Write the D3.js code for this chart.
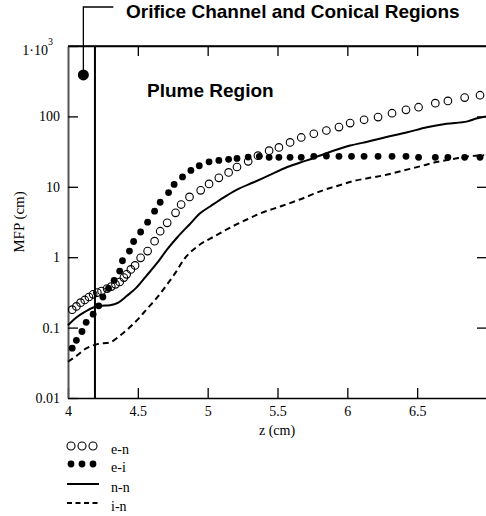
<!DOCTYPE html>
<html>
<head>
<meta charset="utf-8">
<script src="https://cdn.jsdelivr.net/npm/d3@7"></script>
<style>
  body { margin: 0; background: #fff; }
  svg { display: block; }
</style>
</head>
<body>
<div id="chart"></div>
<script>
// mean free paths vs axial position
var zEN = [4.03,4.06,4.09,4.12,4.15,4.18,4.21,4.24,4.28,4.31,4.34,4.37,4.40,4.42,4.45,4.48,4.52,4.57,4.62,4.66,4.71,4.77,4.81,4.87,4.95,5.01,5.08,5.15,5.21,5.29,5.36,5.44,5.51,5.59,5.67,5.76,5.85,5.94,6.02,6.12,6.22,6.32,6.42,6.51,6.63,6.72,6.84,6.95];
var mfpEN = [0.18,0.20,0.226,0.247,0.272,0.297,0.314,0.331,0.358,0.382,0.412,0.444,0.513,0.571,0.671,0.765,0.98,1.22,1.69,2.34,3.08,4.27,5.6,7.19,8.9,11.0,13.4,16.0,19.1,23.0,27.7,32.6,36.3,42.7,50.2,56.7,63.1,70.5,80.3,89.5,97.8,111,124,135,154,166,185,200];

var zEI = [4.03,4.06,4.10,4.13,4.18,4.22,4.25,4.29,4.33,4.37,4.39,4.44,4.47,4.52,4.57,4.62,4.66,4.72,4.76,4.82,4.88,4.94,5.01,5.08,5.15,5.21,5.29,5.37,5.44,5.51,5.59,5.67,5.76,5.85,5.94,6.03,6.12,6.22,6.32,6.42,6.51,6.63,6.72,6.84,6.95];
var mfpEI = [0.051,0.066,0.088,0.119,0.155,0.204,0.272,0.361,0.469,0.635,0.89,1.22,1.67,2.28,3.14,4.5,6.03,8.27,10.8,13.8,17.1,19.9,22.6,23.7,24.6,25.3,26.4,27.1,26.2,26.2,26.2,26.2,27.1,27.4,27.1,27.1,27.1,27.1,27.1,27.1,26.2,26.2,26.2,26.2,26.2];

var zNN = [4.0,4.06,4.12,4.18,4.23,4.30,4.36,4.42,4.49,4.56,4.64,4.71,4.78,4.87,4.95,5.02,5.11,5.21,5.33,5.45,5.57,5.71,5.84,6.02,6.15,6.28,6.43,6.57,6.71,6.86,6.93,7.0];
var mfpNN = [0.108,0.139,0.167,0.193,0.203,0.208,0.227,0.281,0.37,0.54,0.835,1.29,1.89,2.92,4.27,5.3,6.97,9.13,11.6,14.9,19.1,23.7,29.5,38.5,44,51,59.5,70,78.5,85,94,100];

var zIN = [4.0,4.06,4.13,4.21,4.30,4.37,4.44,4.50,4.56,4.64,4.71,4.77,4.83,4.93,5.05,5.17,5.28,5.38,5.52,5.66,5.83,5.95,6.04,6.16,6.28,6.40,6.52,6.64,6.76,6.86,6.98];
var mfpIN = [0.0327,0.0397,0.0506,0.0582,0.0615,0.0763,0.100,0.131,0.179,0.270,0.412,0.603,0.93,1.44,1.99,2.69,3.43,4.21,5.25,6.6,8.98,10.6,12.0,13.4,14.8,17.0,19.5,22.5,24.8,27.0,28.0];

var xTicks = [4, 4.5, 5, 5.5, 6, 6.5, 7];
var xLabels = [4, 4.5, 5, 5.5, 6, 6.5];
var yTicks = [0.01, 0.1, 1, 10, 100, 1000];
var legendLabels = ["e-n", "e-i", "n-n", "i-n"];

// region boundary and the orifice marker
var zBoundary = 4.193;
var orificeMarker = {z: 4.11, mfp: 388};

var serif = "'Liberation Serif', 'Times New Roman', serif";
var sans = "'Liberation Sans', Arial, sans-serif";

var svg = d3.select("#chart").append("svg")
    .attr("width", 486)
    .attr("height", 516),
    margin = {top: 46, right: -1, bottom: 118, left: 68},
    width = 486 - margin.left - margin.right,
    height = 516 - margin.top - margin.bottom,
    g = svg.append("g").attr("transform", "translate(" + margin.left + "," + margin.top + ")");

var x = d3.scaleLinear()
    .domain([4, 7])
    .range([0, width]);

var y = d3.scaleLog()
    .domain([0.01, 1000])
    .range([height, 0]);

function zip(xs, ys) {
  return xs.map(function(d, i) { return {z: d, v: ys[i]}; });
}

var line = d3.line()
    .curve(d3.curveMonotoneX)
    .x(function(d) { return x(d.z); })
    .y(function(d) { return y(d.v); });

// axes, ticks pointing inward
g.append("g")
    .attr("transform", "translate(0," + height + ")")
    .call(d3.axisBottom(x).tickValues(xTicks).tickSizeInner(-10).tickSizeOuter(0).tickPadding(8)
      .tickFormat(function(d) { return xLabels.indexOf(d) >= 0 ? d : ""; }));

g.append("g")
    .call(d3.axisTop(x).tickValues(xTicks.slice(1, 6)).tickSizeInner(-10).tickSizeOuter(0).tickFormat(""));

g.append("g")
    .attr("transform", "translate(" + width + ",0)")
    .call(d3.axisRight(y).tickValues(yTicks.slice(1, 5)).tickSizeInner(-10).tickSizeOuter(0).tickFormat(""));

var left = g.append("g")
    .call(d3.axisLeft(y).tickValues(yTicks).tickSizeInner(-10).tickSizeOuter(0).tickPadding(8)
      .tickFormat(function(d) { return d >= 1000 ? "" : d3.format("~g")(d); }));

g.selectAll(".domain").attr("stroke", "#000").attr("stroke-width", 1.5);
left.select(".domain").attr("stroke", "#555").attr("stroke-width", 2);
g.selectAll(".tick line").attr("stroke", "#000").attr("stroke-width", 1.3);
g.selectAll(".tick text")
    .attr("font-family", serif)
    .attr("font-size", 14)
    .attr("fill", "#000");

// top frame line
g.append("line")
    .attr("x1", 0).attr("x2", width)
    .attr("y1", 0).attr("y2", 0)
    .attr("stroke", "#000").attr("stroke-width", 1.5);

// 1·10^3 label
left.append("text")
    .attr("x", -20)
    .attr("y", y(1000) + 9)
    .attr("text-anchor", "end")
    .attr("font-family", serif)
    .attr("font-size", 14)
    .attr("fill", "#000")
    .text("1\u00b710");
left.append("text")
    .attr("x", -20)
    .attr("y", y(1000) - 1)
    .attr("text-anchor", "start")
    .attr("font-family", serif)
    .attr("font-size", 10)
    .attr("fill", "#000")
    .text("3");

// boundary between orifice/conical and plume regions
g.append("line")
    .attr("x1", x(zBoundary)).attr("x2", x(zBoundary))
    .attr("y1", 0).attr("y2", height)
    .attr("stroke", "#000")
    .attr("stroke-width", 2);

// series
g.append("path")
    .datum(zip(zNN, mfpNN))
    .attr("fill", "none")
    .attr("stroke", "#000")
    .attr("stroke-width", 2)
    .attr("d", line);

g.append("path")
    .datum(zip(zIN, mfpIN))
    .attr("fill", "none")
    .attr("stroke", "#000")
    .attr("stroke-width", 2)
    .attr("stroke-dasharray", "6,4")
    .attr("d", line);

g.selectAll(".en")
    .data(zip(zEN, mfpEN))
  .enter().append("circle")
    .attr("class", "en")
    .attr("cx", function(d) { return x(d.z); })
    .attr("cy", function(d) { return y(d.v); })
    .attr("r", 3.8)
    .attr("fill", "none")
    .attr("stroke", "#000")
    .attr("stroke-width", 1.1);

g.selectAll(".ei")
    .data(zip(zEI, mfpEI))
  .enter().append("circle")
    .attr("class", "ei")
    .attr("cx", function(d) { return x(d.z); })
    .attr("cy", function(d) { return y(d.v); })
    .attr("r", 3.4)
    .attr("fill", "#000");

// orifice annotation: marker, leader and label
var mx = x(orificeMarker.z), my = y(orificeMarker.mfp);
g.append("path")
    .attr("d", "M" + mx + "," + my + "V" + (-39) + "H" + (mx + 30))
    .attr("fill", "none")
    .attr("stroke", "#000")
    .attr("stroke-width", 1.3);
g.append("circle")
    .attr("cx", mx).attr("cy", my)
    .attr("r", 5.5)
    .attr("fill", "#000");

svg.append("text")
    .attr("x", 126)
    .attr("y", 18)
    .attr("font-family", sans)
    .attr("font-weight", "bold")
    .attr("font-size", 19)
    .text("Orifice Channel and Conical Regions");

svg.append("text")
    .attr("x", 147)
    .attr("y", 97)
    .attr("font-family", sans)
    .attr("font-weight", "bold")
    .attr("font-size", 19)
    .text("Plume Region");

// axis titles
svg.append("text")
    .attr("transform", "translate(24," + (margin.top + height / 2) + ") rotate(-90)")
    .attr("text-anchor", "middle")
    .attr("font-family", serif)
    .attr("font-size", 15)
    .text("MFP (cm)");

svg.append("text")
    .attr("x", 277)
    .attr("y", 435)
    .attr("text-anchor", "middle")
    .attr("font-family", serif)
    .attr("font-size", 14)
    .text("z (cm)");

// legend
var legend = svg.append("g").attr("transform", "translate(66,446)");
var rowY = [0, 18, 38, 57];

legendLabels.forEach(function(lab, i) {
  var row = legend.append("g").attr("transform", "translate(0," + rowY[i] + ")");
  if (i < 2) {
    [5, 16, 27].forEach(function(cx) {
      row.append("circle")
          .attr("cx", cx).attr("cy", 0)
          .attr("r", i === 0 ? 4 : 3.4)
          .attr("fill", i === 0 ? "#fff" : "#000")
          .attr("stroke", "#000")
          .attr("stroke-width", i === 0 ? 1.1 : 0);
    });
  } else {
    row.append("line")
        .attr("x1", 1).attr("x2", 33)
        .attr("y1", 0).attr("y2", 0)
        .attr("stroke", "#000")
        .attr("stroke-width", 2)
        .attr("stroke-dasharray", i === 3 ? "5,3.5" : null);
  }
  row.append("text")
      .attr("x", 45)
      .attr("y", 8)
      .attr("font-family", serif)
      .attr("font-size", 14)
      .text(lab);
});
</script>
</body>
</html>
